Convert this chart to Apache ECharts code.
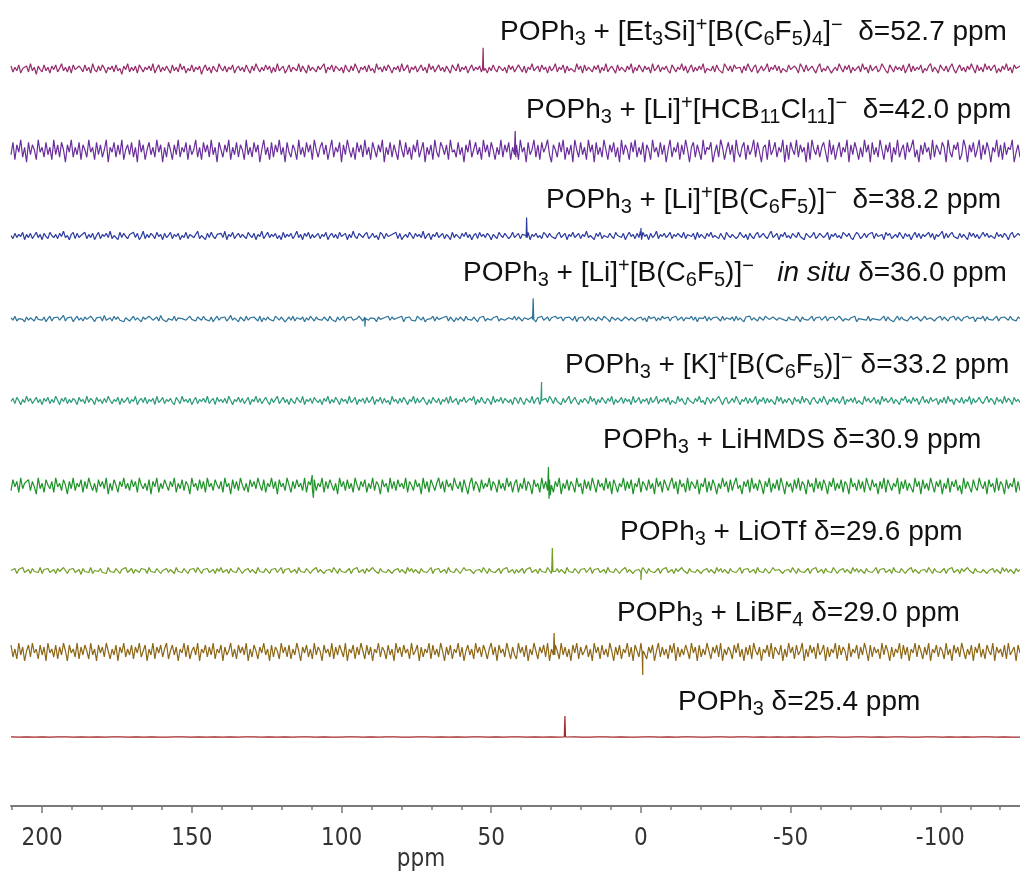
<!DOCTYPE html>
<html><head><meta charset="utf-8">
<script src="https://cdn.jsdelivr.net/npm/echarts@6/dist/echarts.min.js"></script>
<style>html,body{margin:0;padding:0;background:#fff}#c{width:1020px;height:873px}</style>
</head><body><div id="c"></div>
<script>
// ---- data ----
const ppmLeft = 210.4, ppmRight = -126.6;
const tickLabels = [200, 150, 100, 50, 0, -50, -100];
const minorTickValues = [210,200,190,180,170,160,150,140,130,120,110,100,90,80,70,60,50,40,30,20,10,0,-10,-20,-30,-40,-50,-60,-70,-80,-90,-100,-110,-120];
const axisName = 'ppm';

const labels = [
  '{m|POPh}{sub|3}{m| + [Et}{sub|3}{m|Si]}{sup|+}{m|[B(C}{sub|6}{m|F}{sub|5}{m|)}{sub|4}{m|]}{sup|−}{g|  δ=52.7 ppm}',
  '{m|POPh}{sub|3}{m| + [Li]}{sup|+}{m|[HCB}{sub|11}{m|Cl}{sub|11}{m|]}{sup|−}{g|  δ=42.0 ppm}',
  '{m|POPh}{sub|3}{m| + [Li]}{sup|+}{m|[B(C}{sub|6}{m|F}{sub|5}{m|)]}{sup|−}{g|  δ=38.2 ppm}',
  '{m|POPh}{sub|3}{m| + [Li]}{sup|+}{m|[B(C}{sub|6}{m|F}{sub|5}{m|)]}{sup|−}{i|   in situ}{g| δ=36.0 ppm}',
  '{m|POPh}{sub|3}{m| + [K]}{sup|+}{m|[B(C}{sub|6}{m|F}{sub|5}{m|)]}{sup|−}{g| δ=33.2 ppm}',
  '{m|POPh}{sub|3}{m| + LiHMDS }{g|δ=30.9 ppm}',
  '{m|POPh}{sub|3}{m| + LiOTf }{g|δ=29.6 ppm}',
  '{m|POPh}{sub|3}{m| + LiBF}{sub|4}{g| δ=29.0 ppm}',
  '{m|POPh}{sub|3}{g| δ=25.4 ppm}'
];

const noise1 = [7,2,6,3,8,1,5,4,7,2,9,3,6,0,7,4,2,8,3,6,
1,7,4,8,2,5,9,3,6,2,7,1,8,4,3,7,5,2,8,3,
6,1,9,4,2,7,3,8,5,1,6,4,7,2,8,3,5,0,7,4,
9,2,6,3,7,1,8,5,2,6,4,7,3,9,1,5,8,2,6,3,
7,4,1,8,3,6,2,9,4,7,1,5,3,8,2,6,4,7,0,5,
8,3,6,1,7,4,2,9,5,3,7,2,6,4,8,1,5,7,3,6,
2,8,4,1,7,3,9,5,2,6,3,8,4,7,1,6,2,9,3,5,
7,1,4,8,2,6,5,3,9,2,7,4,1,8,3,6,5,2,7,4,
3,9,1,6,4,8,2,7,5,3,6,1,8,4,2,7,3,9,5,1,
6,4,7,2,8,3,5,1,9,4,6,2,7,3,8,5,1,6,4,7,
2,9,3,5,8,1,6,4,7,2,5,8,3,6,1,9,4,7,2,5,
8,3,6,2,7,4,1,8,5,3,9,2,6,4,7,1,5,8,3,6,
4,7,2,9,5,1,6,3,8,4,2,7,5,3,6,1,8,4,7,2,
3,8,5,2,7,1,6,4,9,3,5,7,2,8,4,6,1,7,3,5,
9,2,6,4,8,1,7,3,5,6,2,9,4,7,1,8,3,6,5,2,
7,4,8,1,6,3,9,2,5,7,4,1,8,3,6,5,2,7,4,9,
1,6,3,8,5,2,7,4,6,1,9,3,5,8,2,6,4,7,3,1,
8,5,2,6,4,9,3,7,1,5,8,2,6,3,7,4,9,1,5,6,
3,7,2,8,4,5,1,9,6,3,7,2,8,5,4,6,1,7,3,9,
5,2,6,8,1,4,7,3,5,9,2,6,4,8,3,7,1,5,6,2,
8,4,3,7,5,1,9,6,2,8,3,5,7,4,1,6,9,2,5,3,
7,8,1,4,6,3,9,5,2,7,4,8,1,6,3,5,7,2,9,4,
6,1,8,3,5,7,2,4,9,6,3,1,8,5,2,7,4,6,3,8,
1,5,9,2,7,3,6,4,8,1,5,3,7,9,2,6,4,1,8,5,
3,7,2,6,9,4,1,5,8,3,6,2,7,4,9,5,1,8,3,6,
2,9,4,7,3,6,8,1,5,2,7,4,9,3,6,1,8,5,4,7];
const noise2 = [3,8,1,7,4,9,2,6,0,8,3,7,5,1,9,4,6,2,8,3,
6,1,9,3,7,2,8,5,0,7,4,9,2,6,3,8,1,7,5,2,
9,4,6,1,8,3,7,2,5,9,0,6,4,8,2,7,3,9,1,5,
7,3,8,2,6,0,9,4,7,1,5,8,3,6,2,9,4,7,0,6,
2,8,5,1,7,3,9,2,6,4,8,1,7,3,5,9,2,6,1,8,
4,7,2,9,3,6,0,8,5,2,7,4,9,1,6,3,8,2,7,5,
1,9,3,6,2,8,4,7,0,5,9,3,6,1,8,2,7,4,9,3,
6,0,8,4,2,7,5,1,9,3,6,2,8,4,7,1,9,5,2,6,
8,3,7,1,5,9,2,6,4,8,0,7,3,9,5,2,6,1,8,4,
7,2,9,3,6,1,8,5,2,7,4,9,0,6,3,8,2,7,4,1,
9,5,2,8,3,6,1,7,4,9,2,5,8,0,6,3,7,1,9,4,
2,8,6,3,7,1,9,4,5,2,8,3,6,0,7,4,9,2,5,8,
3,6,1,9,4,7,2,8,5,1,6,3,9,2,7,4,8,1,6,3,
7,1,9,4,6,0,8,3,5,9,2,7,1,8,4,6,9,3,0,7,
5,2,8,4,9,1,6,3,7,0,9,5,2,8,3,6,1,9,4,7,
0,8,3,6,2,9,5,1,7,4,8,2,6,0,9,3,7,5,1,8,
4,9,2,6,3,8,0,7,5,1,9,4,6,2,8,3,7,0,5,9,
2,6,4,8,1,7,3,9,5,0,6,8,2,7,4,1,9,3,6,5,
8,0,4,7,2,9,6,1,5,8,3,7,0,9,4,2,6,8,1,7,
3,5,9,2,8,4,0,6,7,1,9,3,5,8,2,6,4,9,0,7,
1,8,5,3,9,2,7,4,6,0,8,1,9,5,3,7,2,6,8,4,
0,9,3,7,1,5,8,2,6,4,9,0,7,3,8,5,1,6,2,9,
4,7,0,8,3,6,2,9,5,1,7,4,8,0,6,3,9,2,5,7,
1,8,4,6,9,2,5,0,7,3,8,4,6,1,9,2,7,5,3,8,
6,0,9,4,2,7,5,8,1,3,9,6,0,7,4,8,2,5,9,1,
7,3,8,5,0,6,4,9,2,7,1,8,3,6,5,9,0,4,7,2];
const noise3 = [5,2,7,3,6,4,8,1,6,3,7,2,5,8,3,6,1,7,4,2,
8,5,3,6,2,7,4,9,3,5,1,6,8,2,7,3,5,4,8,2,
6,3,7,1,5,8,2,6,4,7,3,9,2,5,6,1,8,3,7,4,
2,6,5,8,3,7,1,4,9,2,6,3,7,5,2,8,4,6,1,7,
3,5,8,2,6,4,7,1,5,3,8,2,6,7,3,4,9,2,5,6,
1,7,3,8,4,2,6,5,7,3,9,1,6,4,8,2,5,7,3,6,
4,2,8,5,3,7,1,6,4,9,2,5,8,3,6,4,7,2,5,1,
8,3,6,4,7,2,5,9,3,6,1,7,4,8,2,6,3,5,7,2,
6,4,8,1,5,7,3,6,2,8,4,5,7,1,6,3,9,4,2,7,
5,3,6,8,2,4,7,3,5,1,8,6,2,7,4,3,6,5,8,2,
7,1,4,6,3,8,5,2,7,4,6,3,9,2,5,7,1,6,4,8,
3,5,7,2,6,4,1,8,3,6,5,2,7,4,8,3,6,1,5,7,
2,8,4,6,3,7,5,1,6,4,2,8,5,3,7,6,2,4,8,3,
4,7,2,6,5,3,8,1,6,4,7,3,5,2,8,6,3,7,4,5,
2,6,8,3,5,7,1,6,4,8,3,5,7,2,6,4,9,3,5,6,
1,7,4,8,2,5,6,3,7,4,2,8,5,6,3,7,1,5,8,4,
6,2,7,3,5,8,4,6,1,7,3,5,9,2,6,4,7,3,5,8,
2,6,4,7,5,3,8,2,6,5,4,7,1,8,3,6,5,2,7,4,
8,3,5,6,2,7,4,1,8,5,3,6,7,2,4,8,5,3,6,1,
7,4,2,6,8,3,5,7,4,2,6,9,3,5,7,1,6,4,8,3,
5,2,7,6,3,8,4,5,1,7,6,3,5,8,2,4,7,6,3,5,
8,1,6,4,7,3,5,2,8,6,4,7,3,1,5,8,6,2,4,7,
3,6,5,8,2,7,4,3,6,1,8,5,7,2,4,6,3,8,5,2,
7,4,6,1,5,8,3,7,2,6,4,5,8,3,7,1,6,4,5,9,
2,7,3,6,8,4,5,2,7,3,6,5,1,8,4,7,3,6,2,5,
8,4,7,3,5,6,2,8,4,6,3,7,5,1,6,8,3,4,7,5];
const noise4 = [6,3,8,2,5,7,4,1,7,3,6,5,2,8,4,6,3,7,1,5,
8,2,6,4,7,3,5,9,2,6,4,7,1,5,8,3,6,2,7,4,
3,8,5,1,6,4,7,2,9,3,5,6,2,8,4,7,3,5,1,6,
7,2,4,8,3,6,5,1,7,4,2,8,6,3,5,7,2,9,4,6,
1,5,7,3,8,2,6,4,5,7,3,1,8,4,6,2,7,5,3,8,
4,6,2,7,1,5,8,3,6,4,7,2,5,9,3,6,4,1,7,5,
2,8,3,6,4,7,5,2,8,1,6,3,7,4,5,2,8,6,3,7,
5,1,4,7,3,8,2,6,5,4,7,1,6,3,8,5,2,7,4,6,
3,7,5,2,8,4,6,1,7,3,5,8,2,6,4,7,3,1,5,8,
6,2,7,4,3,6,8,5,1,7,4,2,6,5,8,3,7,4,2,6,
5,8,1,6,4,7,3,5,2,8,6,3,7,1,4,6,5,8,2,7,
4,3,6,5,8,2,7,4,1,6,3,7,5,2,8,4,6,3,7,5,
1,6,4,8,2,5,7,3,6,4,8,2,5,7,3,1,6,5,4,8,
3,7,5,2,6,8,4,3,7,5,1,6,4,8,3,5,7,2,6,4,
8,5,3,7,2,6,4,7,5,3,8,1,6,4,7,2,5,8,3,6,
4,2,7,5,3,8,6,4,1,7,5,3,6,8,2,4,7,5,3,6,
8,2,5,4,7,3,6,1,8,5,4,7,2,6,3,8,5,4,7,2,
6,4,8,3,5,7,2,6,4,5,8,3,7,1,6,4,5,8,2,7,
3,6,4,7,5,2,8,3,6,5,4,7,2,8,3,6,4,1,7,5,
8,3,6,4,2,7,5,3,8,6,4,2,7,5,3,6,8,4,5,2,
7,4,6,3,8,5,1,7,4,6,3,5,8,2,6,4,7,3,5,8,
2,6,5,7,3,4,8,6,2,5,7,3,6,4,8,1,5,7,4,6,
3,8,2,5,7,4,6,3,5,8,2,7,4,6,1,5,8,3,7,4,
6,2,5,8,4,3,7,6,2,5,8,4,3,6,7,2,5,4,8,3,
7,5,2,6,4,8,3,7,5,2,6,4,8,5,3,7,1,6,4,5,
8,2,7,4,6,3,5,8,2,6,4,7,5,3,8,4,6,2,7,5];
const noise5 = [4,7,2,8,5,1,6,3,9,4,7,2,5,8,3,6,1,7,4,8,
2,6,3,9,5,1,7,4,8,2,6,3,7,5,1,8,4,6,2,9,
3,7,5,1,8,4,6,2,7,3,9,5,2,6,4,8,1,7,3,5,
8,2,6,4,9,1,5,7,3,8,2,6,4,7,1,9,3,5,8,2,
6,4,7,3,1,8,5,2,9,4,6,3,7,1,5,8,2,6,4,7,
3,9,2,5,7,1,8,4,6,3,7,2,9,5,1,6,4,8,3,7,
2,5,8,1,6,4,9,3,7,2,5,8,4,1,7,3,6,9,2,5,
8,3,6,1,7,4,2,8,5,3,9,1,6,4,7,2,8,5,3,6,
1,7,4,9,2,6,3,8,5,1,7,4,6,2,9,3,5,8,1,6,
4,7,2,8,3,5,9,1,6,4,8,2,7,3,5,1,9,4,6,2,
7,3,8,5,1,6,4,9,2,7,3,5,8,4,1,6,2,8,5,3,
7,1,6,4,8,2,9,3,5,7,1,6,4,8,3,2,7,5,9,1,
6,3,8,4,2,7,5,1,9,3,6,4,8,2,7,5,3,6,1,8,
6,2,8,4,1,7,5,3,9,2,6,8,1,5,4,7,3,9,6,2,
8,4,5,1,7,3,6,9,2,5,8,4,1,6,3,7,5,2,9,4,
7,1,6,3,8,5,2,7,4,9,1,6,3,5,8,2,7,4,6,1,
9,3,5,8,2,6,4,7,1,8,3,5,9,2,6,4,7,3,8,1,
5,6,2,9,4,7,3,1,8,5,6,2,7,4,9,3,5,1,8,6,
2,7,4,3,9,5,1,6,8,2,4,7,3,9,5,1,6,4,8,2,
7,3,5,9,1,6,4,8,2,7,3,6,5,1,9,4,8,2,6,3,
7,5,1,8,4,6,2,9,3,7,5,1,6,8,4,2,7,3,9,5,
1,6,4,8,3,7,2,5,9,1,6,4,7,3,8,2,5,6,1,9,
4,7,3,5,8,2,6,1,9,4,7,3,5,8,2,6,4,1,7,5,
9,3,6,2,8,4,7,1,5,9,3,6,2,8,4,5,7,1,6,3,
8,2,9,4,6,1,7,5,3,8,2,6,4,9,1,7,3,5,8,4,
2,6,9,3,7,5,1,8,4,6,2,9,3,7,5,1,8,4,6,3];
const noise6 = [2,8,4,7,1,9,3,6,5,8,2,7,4,0,9,3,6,1,8,5,
3,7,1,9,4,6,2,8,5,0,7,3,9,2,6,4,8,1,7,3,
9,5,2,6,1,8,4,7,3,9,0,6,2,8,5,1,7,4,9,3,
6,2,8,4,7,1,9,5,3,6,2,8,0,7,4,9,1,6,3,8,
5,2,7,4,9,1,6,3,8,2,7,5,0,9,4,6,2,8,3,7,
1,9,4,6,2,8,5,3,7,1,9,4,6,0,8,3,7,2,9,5,
2,6,1,8,4,7,3,9,5,2,8,1,6,4,9,3,7,0,8,4,
6,2,9,5,1,7,3,8,4,6,2,9,1,7,5,3,8,2,6,4,
9,1,7,3,8,5,2,6,0,9,4,7,2,8,3,6,1,9,5,2,
7,4,8,1,6,3,9,2,7,5,0,8,4,6,1,9,3,7,2,8,
4,6,3,9,1,7,5,2,8,4,6,0,9,3,7,1,8,5,2,6,
9,3,7,1,8,4,6,2,9,5,3,7,1,8,4,0,6,9,2,7,
5,1,8,3,6,4,9,2,7,5,1,8,3,6,2,9,4,7,1,6,
8,1,6,3,9,2,7,5,0,8,4,6,1,9,3,7,2,8,5,1,
7,4,9,0,6,3,8,2,7,5,1,9,4,6,0,8,3,7,2,9,
5,1,8,4,6,2,9,3,7,0,8,5,1,6,4,9,2,7,3,8,
0,6,4,9,1,7,5,2,8,3,6,0,9,4,7,1,8,5,2,6,
9,3,7,0,8,4,6,1,9,2,7,5,3,8,0,6,4,9,1,7,
2,8,5,0,6,3,9,4,7,1,8,2,6,9,3,5,0,7,4,8,
1,9,3,6,2,8,5,0,7,4,9,1,6,3,8,2,9,5,0,7,
4,6,1,8,3,9,2,7,5,0,8,4,6,1,9,3,7,2,8,5,
0,7,4,9,2,6,3,8,1,7,5,0,9,4,6,2,8,3,7,1,
9,5,2,8,4,6,0,7,3,9,1,8,5,2,6,4,9,0,7,3,
8,2,6,5,1,9,4,7,0,8,3,6,2,9,5,1,7,4,8,0,
6,3,9,1,7,4,8,2,5,0,9,3,7,6,1,8,4,2,9,5,
3,7,0,8,4,6,1,9,2,7,5,0,8,3,6,4,9,1,7,2];
const noise7 = [5,3,7,2,6,4,8,3,5,6,2,7,4,5,3,8,2,6,4,7,
3,5,6,2,7,4,3,8,5,2,6,4,7,3,5,6,1,7,4,6,
3,8,2,5,6,4,7,3,5,2,8,4,6,3,7,5,2,6,4,8,
3,5,7,2,6,4,3,7,5,6,2,8,4,5,3,7,6,2,5,4,
7,3,6,5,2,8,4,6,3,7,5,2,6,4,7,3,8,5,2,6,
4,7,3,5,6,2,7,4,8,3,5,6,2,7,4,5,3,8,6,2,
5,4,7,3,6,5,2,8,4,6,3,7,5,2,6,4,7,3,5,8,
2,6,4,7,3,5,6,2,8,4,5,3,7,6,2,5,4,8,3,6,
7,2,5,4,6,3,8,5,2,7,4,6,3,5,7,2,6,4,8,3,
5,6,2,7,4,3,8,5,6,2,7,4,5,3,6,8,2,5,4,7,
3,6,5,2,8,4,7,3,6,5,2,7,4,6,3,5,8,2,6,4,
7,3,5,6,2,8,4,5,3,7,6,2,4,8,5,3,6,7,2,5,
4,6,3,8,5,2,7,4,6,3,5,7,2,6,4,8,3,5,6,2,
6,3,5,7,2,6,4,8,3,5,6,2,7,4,5,3,8,6,2,5,
4,7,3,6,5,2,8,4,6,3,7,5,2,6,4,7,3,5,8,2,
6,4,7,3,5,6,2,8,4,5,3,7,6,2,5,4,8,3,6,7,
2,5,4,6,3,8,5,2,7,4,6,3,5,7,2,6,4,8,3,5,
6,2,7,4,3,8,5,6,2,7,4,5,3,6,8,2,5,4,7,3,
6,5,2,8,4,7,3,6,5,2,7,4,6,3,5,8,2,6,4,7,
3,5,6,2,8,4,5,3,7,6,2,4,8,5,3,6,7,2,5,4,
6,3,8,5,2,7,4,6,3,5,7,2,6,4,8,3,5,6,2,7,
4,5,3,8,6,2,5,4,7,3,6,5,2,8,4,7,3,6,5,2,
7,4,6,3,5,8,2,6,4,7,3,5,6,2,8,4,5,3,7,6,
2,5,4,8,3,6,7,2,5,4,6,3,8,5,2,7,4,6,3,5,
7,2,6,4,8,3,5,6,2,7,4,3,8,5,6,2,7,4,5,3,
6,8,2,5,4,7,3,6,5,2,8,4,7,3,6,5,2,7,4,6];
const noise8 = [8,2,6,1,9,3,7,0,5,8,2,9,4,6,1,8,3,7,0,9,
4,6,2,8,1,7,3,9,5,0,8,4,6,2,9,1,7,3,8,5,
1,9,3,6,0,8,4,7,2,9,5,1,6,3,8,0,7,4,9,2,
6,3,8,1,7,4,9,2,5,8,0,6,3,9,1,7,4,8,2,6,
9,1,5,8,3,7,0,6,4,9,2,8,1,5,7,3,9,0,6,4,
8,2,7,3,9,1,6,4,8,0,7,3,5,9,2,6,1,8,4,7,
3,9,0,6,2,8,5,1,7,4,9,3,6,0,8,2,7,5,1,9,
4,7,2,8,1,6,3,9,5,0,7,4,8,2,6,1,9,3,7,5,
0,8,4,6,2,9,1,7,3,8,5,2,9,0,6,4,8,1,7,3,
9,5,1,8,3,7,0,6,4,9,2,7,5,1,8,3,6,0,9,4,
7,2,8,4,6,1,9,3,5,8,0,7,2,6,4,9,1,8,3,6,
2,9,5,0,7,3,8,1,6,4,9,2,7,0,5,8,3,6,1,9,
4,7,2,8,5,1,6,9,3,7,0,8,4,6,2,9,5,1,7,3,
1,9,4,7,2,8,0,6,3,9,5,1,7,4,8,2,9,0,6,3,
8,5,1,9,3,7,2,6,0,8,4,9,1,7,3,5,8,2,6,0,
9,4,7,1,8,3,6,2,9,5,0,7,3,8,1,6,4,9,2,7,
0,8,5,2,9,3,6,1,7,4,8,0,5,9,2,7,3,6,1,8,
4,9,0,7,2,6,3,8,5,1,9,4,7,0,8,2,6,3,9,5,
1,7,4,8,2,9,0,6,3,7,5,1,8,4,9,2,6,0,7,3,
8,1,9,5,3,7,0,6,4,8,2,9,1,7,5,3,8,0,6,2,
9,4,7,1,8,3,5,9,0,6,2,8,4,7,1,9,3,5,8,0,
7,2,6,4,9,1,8,3,7,5,0,9,2,6,4,8,1,7,3,9,
5,0,8,2,7,4,6,1,9,3,8,5,0,7,2,6,4,9,1,8,
3,7,0,6,4,9,2,8,5,1,7,3,9,0,6,4,8,2,7,5,
1,9,3,6,0,8,4,7,2,9,5,1,6,3,8,0,7,4,9,2,
6,1,8,5,3,9,0,7,4,6,2,8,1,9,3,5,7,0,8,4];
const noise9 = [5,4,5,3,6,4,5,5,4,6,3,5,4,6,5,4,5,3,6,4,
4,6,5,3,5,4,6,4,5,3,6,5,4,5,4,6,3,5,5,4,
6,4,3,5,6,4,5,4,6,5,3,4,5,6,4,5,3,6,4,5,
5,3,6,4,5,5,4,6,3,5,4,5,6,4,3,5,6,4,5,4,
4,5,6,3,5,4,6,5,4,3,5,6,4,5,5,4,6,3,5,4,
6,4,5,3,6,5,4,4,5,6,3,5,4,6,5,4,3,5,6,4,
5,4,6,3,5,5,4,6,4,3];
const peaks1 = [[52.9, 5], [52.7, 22.5], [52.5, 3]];
const peaks2 = [[42.2, 6], [42.0, 12.5], [41.8, 2]];
const peaks3 = [[38.4, 5], [38.2, 22], [38.0, 3], [0.2, 9], [0.0, 12], [-0.2, 1]];
const peaks4 = [[36.2, 4], [36.0, 30.5], [35.8, 4], [92.4, 4], [92.2, -5], [92.0, 5]];
const peaks5 = [[33.4, 5], [33.2, 22.5], [33.0, 4]];
const peaks6 = [[31.1, 5], [30.9, 15], [30.7, -2.5], [30.3, -0.5], [109.8, 10.5], [109.4, -2]];
const peaks7 = [[29.8, 5], [29.6, 27.5], [29.4, 4], [0.2, 4], [0.0, -4.5], [-0.2, 5]];
const peaks8 = [[29.2, 5], [29.0, 14], [28.8, 3], [-0.4, 4], [-0.6, -7], [-0.8, 5]];
const peaks9 = [[25.6, 4.5], [25.4, 162], [25.2, 4.5]];

const noises = [noise1, noise2, noise3, noise4, noise5, noise6, noise7, noise8, noise9];
const peaks = [peaks1, peaks2, peaks3, peaks4, peaks5, peaks6, peaks7, peaks8, peaks9];

// ---- styling / layout ----
const colors = ['#962b6b', '#6a2d9c', '#2b3aa0', '#2d7399', '#2a9a7a', '#1f9229', '#6f9c22', '#8c6614', '#a3282a'];
const baselines = [69, 151, 236, 319, 401, 486, 571, 652, 737];
const halfRange = [34, 16, 38, 50, 38, 22, 40, 20, 300];
const labelLeft = [500, 526, 546, 463, 565, 603, 620, 617, 678];
const labelBaseline = [42, 120, 210, 283, 375, 450, 542, 623, 712];

function buildData(noise, pk) {
  const n = noise.length;
  const pts = noise.map((v, i) => [ppmLeft + i * (ppmRight - ppmLeft) / (n - 1), v]);
  return pts.concat(pk).sort((a, b) => b[0] - a[0]);
}

const grids = [], xAxes = [], yAxes = [], series = [];
noises.forEach((nz, i) => {
  grids.push({ left: 11, right: 0, top: baselines[i] - 40, height: 80 });
  xAxes.push({ gridIndex: i, type: 'value', inverse: true, min: ppmRight, max: ppmLeft, show: false });
  yAxes.push({ gridIndex: i, type: 'value', min: 4.5 - halfRange[i], max: 4.5 + halfRange[i], show: false });
  series.push({
    type: 'line', xAxisIndex: i, yAxisIndex: i, data: buildData(nz, peaks[i]),
    showSymbol: false, symbol: 'none', silent: true, clip: false, sampling: null,
    lineStyle: { color: colors[i], width: 1.2 }
  });
});
// visible axis grids (major + minor ticks)
const axisFont = "'DejaVu Sans Condensed', 'DejaVu Sans', sans-serif";
[0, 1].forEach(k => {
  const gi = 9 + k;
  grids.push({ left: 11, right: 0, top: 760, height: 46 });
  yAxes.push({ gridIndex: gi, type: 'value', show: false, min: 0, max: 1 });
  xAxes.push({
    gridIndex: gi, type: 'value', inverse: true, min: ppmRight, max: ppmLeft, position: 'bottom',
    splitLine: { show: false },
    axisLine: { show: k === 0, lineStyle: { color: '#7a7a7a', width: 2 } },
    axisTick: { show: true, customValues: k === 0 ? tickLabels : minorTickValues, length: k === 0 ? 7 : 4,
      lineStyle: { color: '#7a7a7a', width: 1.5 } },
    axisLabel: { show: k === 0, customValues: tickLabels, fontSize: 24, color: '#333', fontFamily: axisFont, margin: 21 }
  });
});

const richStyles = {
  m: { fontSize: 28, lineHeight: 34, color: '#111', fontFamily: 'Liberation Sans' },
  g: { fontSize: 28, lineHeight: 34, color: '#333', fontFamily: 'Liberation Sans' },
  i: { fontSize: 28, lineHeight: 34, color: '#111', fontFamily: 'Liberation Sans', fontStyle: 'italic' },
  sub: { fontSize: 20, lineHeight: 19, color: '#111', fontFamily: 'Liberation Sans', verticalAlign: 'bottom' },
  sup: { fontSize: 20, lineHeight: 19, color: '#111', fontFamily: 'Liberation Sans', verticalAlign: 'top' }
};
const graphics = labels.map((t, i) => ({
  type: 'text', x: labelLeft[i], y: labelBaseline[i] - 27, silent: true,
  style: { text: t, rich: richStyles, align: 'left', verticalAlign: 'top', fill: '#111' }
}));
graphics.push({
  type: 'text', x: 421, y: 860, silent: true,
  style: { text: axisName, fontSize: 24, fontFamily: axisFont, fill: '#333', align: 'center', verticalAlign: 'middle' }
});

const chart = echarts.init(document.getElementById('c'));
chart.setOption({
  backgroundColor: '#fff', animation: false,
  grid: grids, xAxis: xAxes, yAxis: yAxes, series: series, graphic: graphics
});
</script>
</body></html>
